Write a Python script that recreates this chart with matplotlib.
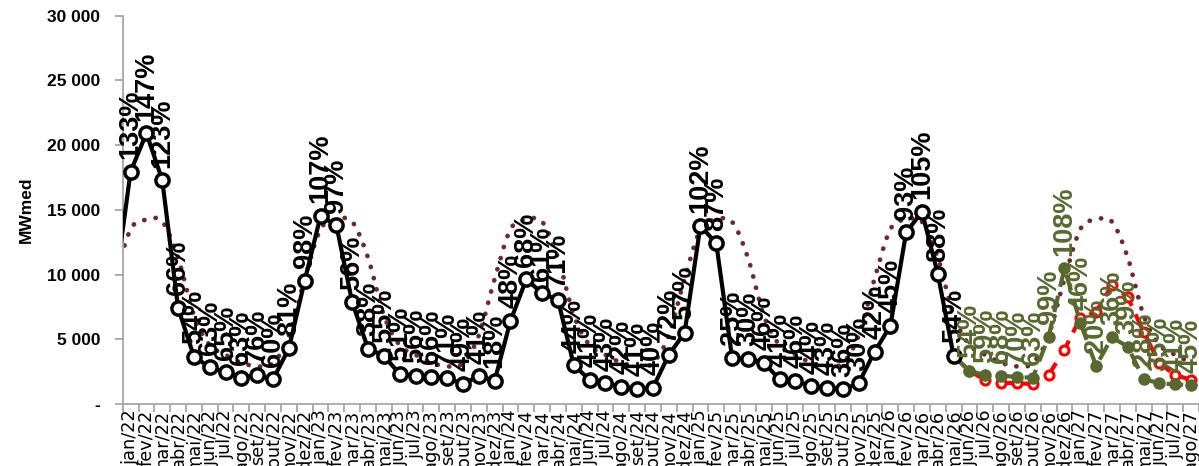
import numpy as np
import matplotlib
matplotlib.use("Agg")
import matplotlib.pyplot as plt
from matplotlib.path import Path
from matplotlib.patches import PathPatch

# ---------------- data ----------------
month_names = ["jan", "fev", "mar", "abr", "mai", "jun", "jul", "ago", "set", "out", "nov", "dez"]
# categories: dez/21 ... ago/27 (first and last partially outside the plot)
categories = ["dez/21"] + [f"{m}/{y}" for y in range(22, 28) for m in month_names][:68]

# monthly long-term average (MLT), jan..dez
mlt_month = [13500, 14240, 14080, 11300, 6850, 4550, 3800, 3190, 2910, 3160, 5300, 9670]

# verified history dez/21 .. mai/26
hist_values = [
    8900,
    17960, 20920, 17290, 7420, 3660, 2840, 2450, 2030, 2220, 1910, 4300, 9530,
    14530, 13810, 7860, 4280, 3710, 2320, 2190, 2110, 1990, 1550, 2160, 1800,
    6420, 9640, 8560, 8040, 3010, 1860, 1600, 1340, 1180, 1260, 3790, 5510,
    13760, 12420, 3580, 3480, 3190, 1910, 1780, 1390, 1260, 1130, 1600, 4040,
    6030, 13270, 14840, 10030, 3710,
]
hist_labels = [
    None,
    "133%", "147%", "123%", "66%", "54%", "63%", "65%", "63%", "76%", "60%", "81%", "98%",
    "107%", "97%", "56%", "38%", "55%", "51%", "56%", "66%", "71%", "49%", "41%", "18%",
    "48%", "68%", "61%", "71%", "44%", "41%", "43%", "42%", "41%", "40%", "72%", "57%",
    "102%", "87%", "25%", "30%", "46%", "41%", "46%", "44%", "43%", "36%", "30%", "42%",
    "45%", "93%", "105%", "88%", "54%",
]

# scenario 1 (green) mai/26 .. ago/27
scen1_values = [3710, 2550, 2240, 2190, 2090, 2030, 5200, 10490, 6290, 2940, 5150, 4430, 1930, 1600, 1520, 1450]
scen1_labels = [None, "54%", "59%", "68%", "70%", "63%", "99%", "108%", "46%", "20%", "36%", "39%", "28%", "35%", "41%", "45%"]

# scenario 2 (red) mai/26 .. ago/27
scen2_values = [3710, 2550, 1860, 1650, 1600, 1550, 2240, 4200, 6650, 7100, 9200, 8250, 5550, 3150, 2240, 1860]

y_ticks = [0, 5000, 10000, 15000, 20000, 25000, 30000]

# ---------------- figure ----------------
W, H = 1199, 466
fig = plt.figure(figsize=(W / 100, H / 100), dpi=100)
ax = fig.add_axes([122.7 / W, 62 / H, (W - 122.7) / W, 388.3 / H])

x_all = np.arange(-1, -1 + len(categories))
month_idx = [(i) % 12 for i in range(-1, -1 + len(categories))]
mlt_values = [mlt_month[k] for k in month_idx]

# smoothed (Excel-like) dotted MLT curve
pts = np.column_stack([x_all, mlt_values]).astype(float)
verts = [tuple(pts[0])]
codes = [Path.MOVETO]
n = len(pts)
for i in range(n - 1):
    p0 = pts[i - 1] if i > 0 else pts[i]
    p1 = pts[i]
    p2 = pts[i + 1]
    p3 = pts[i + 2] if i + 2 < n else pts[i + 1]
    c1 = p1 + (p2 - p0) / 6.0
    c2 = p2 - (p3 - p1) / 6.0
    verts += [tuple(c1), tuple(c2), tuple(p2)]
    codes += [Path.CURVE4] * 3
mlt_patch = PathPatch(Path(verts, codes), fill=False, edgecolor="#6E2A2A",
                      linewidth=3.4, linestyle=(0, (0.05, 2.4)), capstyle="round", zorder=2)
ax.add_patch(mlt_patch)

green = "#58692F"
red = "#FF0000"

x_hist = x_all[:len(hist_values)]
x_scen = x_all[len(hist_values) - 1:len(hist_values) - 1 + len(scen1_values)]

ax.plot(x_scen, scen2_values, color=red, lw=3.0, dashes=(4, 2.2), zorder=3,
        marker="o", ms=6.5, mfc="white", mec=red, mew=2.2, markevery=list(range(1, len(scen2_values))))
ax.plot(x_scen, scen1_values, color=green, lw=3.0, dashes=(4, 2.2), zorder=4,
        marker="o", ms=8, mfc=green, mec=green, markevery=list(range(1, len(scen1_values))))
ax.plot(x_hist, hist_values, color="black", lw=3.0, zorder=5,
        marker="o", ms=9.5, mfc="white", mec="black", mew=2.5,
        markevery=list(range(1, len(hist_values))))

lab_font = ["Liberation Sans Narrow", "Liberation Sans", "DejaVu Sans"]
for xv, yv, lab in zip(x_hist, hist_values, hist_labels):
    if lab:
        ax.annotate(lab, (xv, yv), xytext=(0, 9), textcoords="offset points",
                    rotation=90, ha="center", va="bottom", fontsize=19.5, fontweight="bold",
                    family=lab_font, color="black", zorder=6, annotation_clip=False)
for xv, yv, lab in zip(x_scen, scen1_values, scen1_labels):
    if lab:
        ax.annotate(lab, (xv, yv), xytext=(0, 9), textcoords="offset points",
                    rotation=90, ha="center", va="bottom", fontsize=19.5, fontweight="bold",
                    family=lab_font, color=green, zorder=6, annotation_clip=False)

# axes
ax.set_xlim(-0.5, (W - 130) / 15.98)
ax.set_ylim(0, 30000)
for s in ["top", "right"]:
    ax.spines[s].set_visible(False)
for s in ["left", "bottom"]:
    ax.spines[s].set_color("#A6A6A6")
    ax.spines[s].set_linewidth(1.3)

ax.set_yticks(y_ticks)
ax.set_yticklabels(["-" if v == 0 else f"{v:,}".replace(",", " ") for v in y_ticks],
                   fontsize=12.5, family=["Liberation Sans", "DejaVu Sans"], fontweight="bold")
ax.tick_params(axis="y", length=6, width=1.3, color="#A6A6A6", pad=10)

tick_x = x_all[1:]
ax.set_xticks(tick_x)
ax.set_xticklabels(categories[1:], rotation=90, fontsize=12.8,
                   family=["Liberation Sans Narrow", "DejaVu Sans"], va="top")
ax.tick_params(axis="x", which="major", length=0, pad=4)
ax.set_xticks(np.arange(-0.5, 68, 1.0), minor=True)
ax.tick_params(axis="x", which="minor", length=6, width=1.3, color="#A6A6A6")

ax.set_ylabel("MWmed", fontsize=12.5, fontweight="bold", family=["Liberation Sans", "DejaVu Sans"])
ax.yaxis.set_label_coords(-(122.7 - 34) / (W - 122.7), 0.5)

fig.savefig("out.png", dpi=100)
